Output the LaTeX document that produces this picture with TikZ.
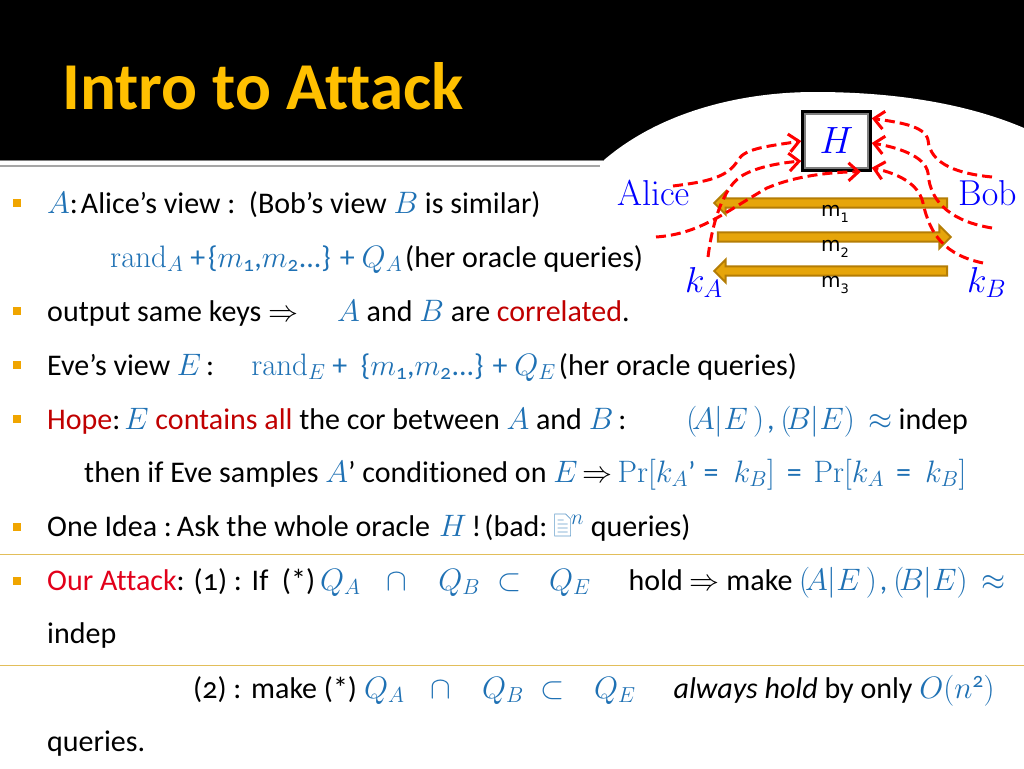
\documentclass[tikz,border=0pt]{standalone}
\usepackage{fix-cm}
\usepackage[no-math]{fontspec}
\setmainfont[Ligatures={TeX,NoCommon},Numbers=OldStyle]{Carlito}
\newfontfamily\labelfont{DejaVu Sans}
\usetikzlibrary{arrows.meta,calc,shapes.arrows}
\definecolor{viewblue}{RGB}{31,113,180}
\definecolor{titlegold}{RGB}{255,192,0}
\definecolor{ruleold}{RGB}{226,190,90}
\definecolor{bulletgold}{RGB}{240,165,0}
\definecolor{hotred}{RGB}{226,0,26}
\definecolor{darkred}{RGB}{192,0,0}
\definecolor{arrowfill}{RGB}{230,165,10}
\definecolor{arrowedge}{RGB}{180,125,5}
\newcommand{\bm}[1]{{\fontsize{31}{33}\selectfont\color{viewblue}$#1$}}
\newcommand{\bt}[1]{{\color{viewblue}#1}}
\newcommand{\msub}[1]{\textsubscript{#1}}
\newcommand{\pairAE}{\bm{(\!A|E\,)}\bt{\hspace{3pt},\hspace{6pt}}\bm{(\!B|E)\,\approx}}
\tikzset{
  line/.style={anchor=base west,inner sep=0pt,font=\fontsize{30}{32}\selectfont},
  bulletbox/.style={fill=bulletgold,minimum size=8pt,inner sep=0pt},
  wire/.style={red,line width=3pt,dash pattern=on 10pt off 5pt,-{Straight Barb[length=10pt,width=18pt]}},
  msgarrow/.style={single arrow,draw=arrowedge,fill=arrowfill,line width=2pt,minimum height=233pt,
    minimum width=23pt,single arrow head extend=1.5pt,inner sep=0pt},
  nameblue/.style={anchor=base west,inner sep=0pt,text=blue,font=\fontsize{36}{38}\selectfont},
  mlabel/.style={anchor=base west,inner sep=0pt,font=\fontsize{20}{22}\selectfont\labelfont},
}
\begin{document}
\begin{tikzpicture}[x=1pt,y=-1pt]
  \useasboundingbox (0,0) rectangle (1024,768);
  % header band with the white bulge on the right
  \fill[black] (0,0) rectangle (1024,160);
  \fill[white] (604,160) .. controls (660,112) and (740,92) .. (815,92)
     .. controls (900,92) and (970,105) .. (1024,128) -- (1024,200) -- (604,200) -- cycle;
  \draw[gray,line width=1pt] (0,160.5) -- (604,160.5);
  \draw[gray!70,line width=1.2pt] (0,166) -- (600,166);
  \node[anchor=base west,inner sep=0pt,text=titlegold,font=\fontsize{67}{70}\selectfont\bfseries] (title) at (62,109) {Intro to Attack};
  % rules
  \coordinate (ruleaL) at (0,554.5); \coordinate (ruleaR) at (1024,554.5);
  \coordinate (rulebL) at (0,665.5); \coordinate (rulebR) at (1024,665.5);
  \draw[ruleold,line width=1pt] (ruleaL) -- (ruleaR);
  \draw[ruleold,line width=1pt] (rulebL) -- (rulebR);
  % bullets
  \foreach \y/\name in {203/bulA,311/bulB,365/bulC,419/bulD,527/bulE,581/bulF}
    \node[bulletbox] (\name) at (17,\y) {};
  % text lines
  \node[line] (lineA) at (47,213) {\bm{A}:\hspace{3pt}Alice’s view :\ \ (Bob’s view \bm{B}\ is similar)};
  \node[line] (lineB) at (110,267) {\bm{\mathrm{rand}_A}\ \bt{+\hspace{3pt}\{$m$\msub{1},$m$\msub{2}...\} +} \bm{Q_A}\hspace{3pt}(her oracle queries)};
  \node[line] (lineC) at (47,321) {output same keys $\Rightarrow$\hspace{39pt}\bm{A}\ and \bm{B}\ are {\color{darkred}correlated}.};
  \node[line] (lineD) at (47,375) {Eve’s view \bm{E}\,:\hspace{37pt}\bm{\mathrm{rand}_E}\ \bt{+\ \ \{$m$\msub{1},$m$\msub{2}...\} +} \bm{Q_E}\hspace{3pt}(her oracle queries)};
  \node[line] (lineE) at (47,429) {{\color{darkred}Hope}:\hspace{4pt}\bm{E}\ {\color{darkred}contains all} the cor between \bm{A}\ and \bm{B}\,:\hspace{60pt}\pairAE\hspace{6pt}indep};
  \node[line] (lineF) at (84,482) {then if Eve samples \bm{A}’ conditioned on \bm{E}\,$\Rightarrow$\,\bm{\mathrm{Pr}[k_A}\bt{’\hspace{8pt}=\hspace{15pt}}\bm{k_B]}\bt{\hspace{12pt}=\hspace{12pt}}\bm{\mathrm{Pr}[k_A}\bt{\hspace{12pt}=\hspace{14pt}}\bm{k_B]}};
  \node[line] (lineG) at (47,536) {One Idea :\hspace{5pt}Ask the whole oracle\hspace{9pt}\bm{H}\,!\hspace{3pt}(bad:\ \tikz[x=1pt,y=1pt,baseline=0pt]{\draw[viewblue!70,line width=.7pt] (0,0) -- (0,22) -- (11,22) -- (16,17) -- (16,0) -- cycle (3,4) -- (13,4) (3,8) -- (13,8) (3,12) -- (13,12) (3,16) -- (9,16);}\bm{^n}\ queries)};
  \node[line] (lineH) at (47,590) {{\color{hotred}Our Attack}: (1) :\ \hspace{3pt}If\ \ (*)\,\bm{Q_A}\hspace{26pt}\bm{\cap}\hspace{31pt}\bm{Q_B}\hspace{17pt}\bm{\subset}\hspace{28pt}\bm{Q_E}\hspace{38pt}hold $\Rightarrow$ make \pairAE};
  \node[line] (lineI) at (47,643) {indep};
  \node[line] (lineJ) at (193,698) {(2) :\ \hspace{3pt}make (*)\hspace{7pt}\bm{Q_A}\hspace{26pt}\bm{\cap}\hspace{31pt}\bm{Q_B}\hspace{17pt}\bm{\subset}\hspace{29pt}\bm{Q_E}\hspace{38pt}\textit{always hold} by only \bm{O(n}\bt{\textsuperscript{2}}\bm{)}};
  \node[line] (lineK) at (47,751) {queries.};
  % diagram
  \node[msgarrow,shape border rotate=180] (msgA) at (833,203) {};
  \node[msgarrow] (msgB) at (832,237) {};
  \node[msgarrow,shape border rotate=180] (msgC) at (833,271) {};
  \node[mlabel] (mA) at (821,216) {m\raisebox{-6pt}{\fontsize{13}{14}\selectfont 1}};
  \node[mlabel] (mB) at (821,251) {m\raisebox{-6pt}{\fontsize{13}{14}\selectfont 2}};
  \node[mlabel] (mC) at (821,287) {m\raisebox{-6pt}{\fontsize{13}{14}\selectfont 3}};
  \node[draw=black,line width=2.5pt,fill=white,minimum width=68pt,minimum height=59pt,inner sep=0pt,text=blue,font=\fontsize{38}{40}\selectfont] (H) at (836.5,141) {$H$};
  \draw[gray,line width=2pt] ($(H.north west)+(3.5,3.5)$) rectangle ($(H.south east)+(-3.5,-3.5)$);
  \node[nameblue] (alice) at (617,205) {$\mathrm{Alice}$};
  \node[nameblue] (bob) at (958,205) {$\mathrm{Bob}$};
  \node[nameblue] (kA) at (685,292) {$k_A$};
  \node[nameblue] (kB) at (967,292) {$k_B$};
  % dashed query paths
  \coordinate (alicestart) at (673,186);
  \coordinate (evestart) at (656,237);
  \coordinate (kAstart) at (708,257);
  \coordinate (bobstart) at (992,177);
  \coordinate (bobstartb) at (992,228);
  \coordinate (kBstart) at (983,263);
  \draw[wire] (alicestart) .. controls (705,182) and (728,178) .. (738,160) .. controls (745,148) and (770,146) .. (H.west);
  \draw[wire] (kAstart) .. controls (712,225) and (722,190) .. (740,177) .. controls (755,167) and (780,163) .. ($(H.west)+(0,20)$);
  \draw[wire] (evestart) .. controls (700,234) and (725,212) .. (767,188) .. controls (795,176) and (830,172) .. ($(H.south east)+(-11,0)$);
  \draw[wire] (bobstart) .. controls (960,174) and (930,165) .. (928,140) .. controls (925,125) and (895,122) .. ($(H.north east)+(0,8)$);
  \draw[wire] (bobstartb) .. controls (955,222) and (930,205) .. (928,173) .. controls (925,155) and (895,147) .. ($(H.east)+(0,2)$);
  \draw[wire] (kBstart) .. controls (945,255) and (930,235) .. (923,203) .. controls (918,180) and (890,172) .. ($(H.south east)+(0,-4)$);
\end{tikzpicture}
\end{document}
